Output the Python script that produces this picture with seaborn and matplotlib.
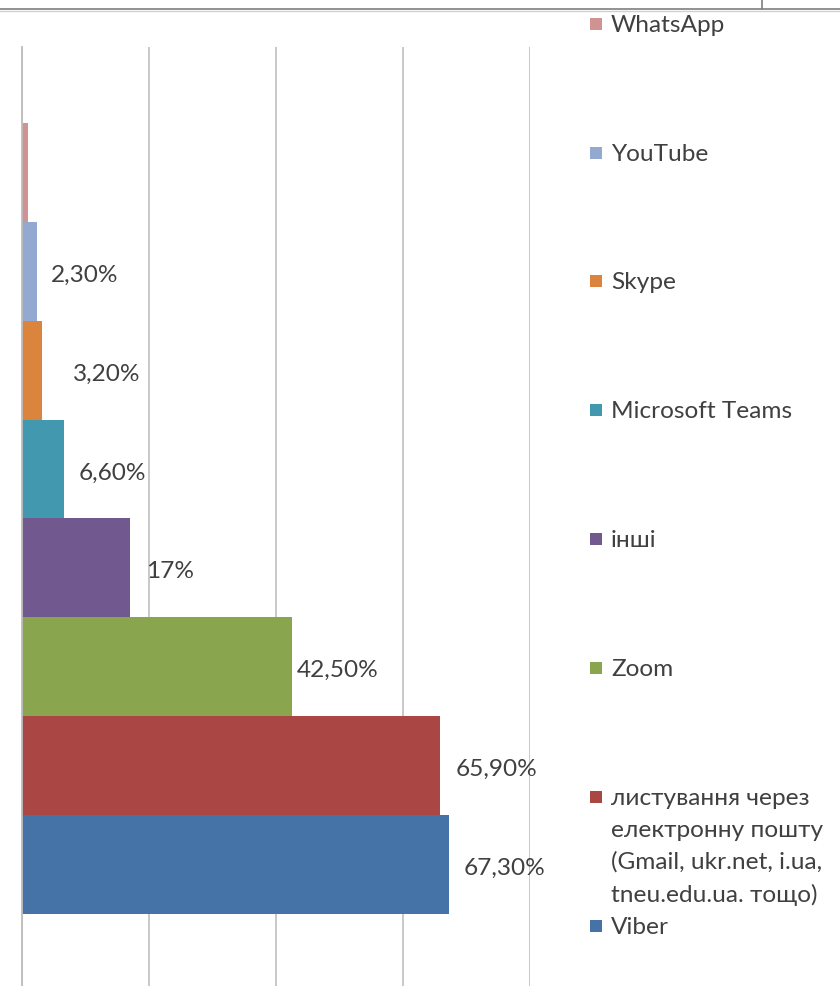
import numpy as np
import pandas as pd
import matplotlib
matplotlib.use("Agg")
import matplotlib.pyplot as plt
from matplotlib.lines import Line2D
from matplotlib.patches import Rectangle
import seaborn as sns

sns.set_style("white")
plt.rcParams['font.family'] = ['Lato', 'DejaVu Sans']

# data, listed top to bottom as drawn
apps = ["WhatsApp", "YouTube", "Skype", "Microsoft Teams", "інші", "Zoom",
        "листування через\nелектронну пошту\n(Gmail, ukr.net, i.ua,\ntneu.edu.ua. тощо)",
        "Viber"]
share = [0.9, 2.3, 3.2, 6.6, 17.0, 42.5, 65.9, 67.3]
value_labels = ["", "2,30%", "3,20%", "6,60%", "17%", "42,50%", "65,90%", "67,30%"]
colors = ["#D19392", "#93A9CF", "#DB843D", "#4198AF", "#71588F", "#89A54E", "#AA4643", "#4572A7"]

W, H = 840, 987
txt_col = "#404040"
fs = 17.6

df = pd.DataFrame({"app": apps, "share": share})

fig = plt.figure(figsize=(W / 100, H / 100), dpi=100)
ax = fig.add_axes([22 / W, 0, (530 - 22) / W, 1 - 48 / H])

sns.barplot(data=df, y="app", x="share", hue="app", order=apps, hue_order=apps,
            palette=colors, width=1.0, dodge=False, saturation=1, legend=False,
            linewidth=0, ax=ax)

ax.set_xlim(0, 80)
ax.set_ylim(8.23, -1.27)
ax.set_xticks([0, 20, 40, 60, 80])
ax.set_xticklabels([])
ax.set_yticks([-1.27])
ax.set_yticklabels([])
ax.tick_params(axis="x", length=0)
ax.tick_params(axis="y", length=6, width=1, color="#A6A6A6", direction="out")
ax.grid(axis="x", color="#C4C4C4", linewidth=1.3)
ax.set_axisbelow(True)
ax.set_xlabel("")
ax.set_ylabel("")
for s in ["top", "right", "bottom"]:
    ax.spines[s].set_visible(False)
ax.spines["left"].set_color("#BDBDBD")
ax.spines["left"].set_linewidth(1.3)

# data labels, offsets (px) as placed in the original
pads_px = [0, 14, 31, 15, 16, 5, 15, 14]
for i, cont in enumerate(ax.containers):
    anns = ax.bar_label(cont, labels=[value_labels[i]], padding=pads_px[i] * 0.72,
                        color=txt_col, fontsize=fs)
    for a in anns:
        a.xyann = (a.xyann[0], -3 * 0.72)

# legend drawn by hand: evenly spaced slots, multi-line label hangs below its marker
slot_y = [25, 154, 282, 411, 540, 669, 798, 927]
for lab, c, y in zip(apps, colors, slot_y):
    fig.add_artist(Rectangle((590 / W, 1 - (y + 6) / H), 12 / W, 12 / H,
                             transform=fig.transFigure, color=c, lw=0))
    fig.text(611 / W, 1 - (y - 10) / H, lab, color=txt_col, fontsize=fs,
             va="top", ha="left", linespacing=1.62)

# bits of the surrounding frame at the top
fig.add_artist(Line2D([0, 1], [1 - 9.5 / H] * 2, transform=fig.transFigure,
                      color="#7F7F7F", lw=1.2))
fig.add_artist(Line2D([0, 1], [1 - 11.5 / H] * 2, transform=fig.transFigure,
                      color="#D0D0D0", lw=1.0))
fig.add_artist(Line2D([762 / W] * 2, [1, 1 - 9.5 / H], transform=fig.transFigure,
                      color="#7F7F7F", lw=1.2))

fig.savefig("out.png", dpi=100)
